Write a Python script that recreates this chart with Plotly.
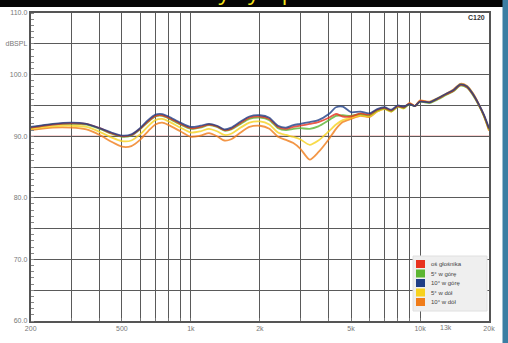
import numpy as np
import plotly.graph_objects as go

# --- data -------------------------------------------------------------
freq_hz = [200, 250, 300, 350, 400, 450, 500, 550, 600, 650, 700, 750, 800, 900,
           1000, 1100, 1200, 1300, 1400, 1500, 1650, 1800, 2000, 2200, 2400, 2600,
           2800, 3000, 3300, 3600, 4000, 4300, 4600, 5000, 5500, 6000, 6500, 7000,
           7500, 8000, 8500, 9000, 9500, 10000, 11000, 12000, 13000, 14000, 15000,
           16000, 17000, 18000, 19000, 20000]

spl_axis = [91.4, 91.9, 92.1, 92.0, 91.3, 90.5, 90.0, 90.2, 91.2, 92.4, 93.3, 93.4, 93.0, 92.0,
            91.3, 91.5, 91.9, 91.6, 91.0, 91.2, 92.2, 93.0, 93.2, 92.8, 91.5, 91.2,
            91.5, 91.7, 92.0, 92.3, 93.0, 93.6, 93.2, 93.2, 93.7, 93.5, 94.3, 94.6,
            94.2, 94.9, 94.7, 95.3, 94.9, 95.7, 95.5, 96.1, 96.8, 97.4, 98.3,
            98.0, 96.8, 95.2, 93.4, 91.2]

spl_up5 = [91.4, 91.9, 92.0, 91.9, 91.2, 90.4, 89.9, 90.1, 91.1, 92.3, 93.2, 93.3, 92.9, 91.9,
           91.2, 91.4, 91.8, 91.5, 90.9, 91.1, 92.0, 92.8, 93.0, 92.6, 91.3, 91.0,
           91.2, 91.3, 91.2, 91.6, 92.6, 93.3, 93.4, 93.3, 93.6, 93.4, 94.2, 94.5,
           94.1, 94.8, 94.6, 95.2, 94.9, 95.6, 95.4, 96.0, 96.7, 97.3, 98.2,
           97.9, 96.7, 95.1, 93.3, 91.1]

spl_up10 = [91.5, 92.0, 92.2, 92.0, 91.3, 90.6, 90.1, 90.3, 91.3, 92.6, 93.5, 93.6, 93.2, 92.2,
            91.5, 91.7, 92.0, 91.7, 91.1, 91.4, 92.4, 93.2, 93.4, 93.0, 91.7, 91.4,
            91.8, 92.0, 92.3, 92.6, 93.6, 94.7, 94.8, 93.9, 94.0, 93.7, 94.4, 94.7,
            94.3, 95.0, 94.8, 95.2, 94.9, 95.6, 95.5, 96.2, 96.9, 97.5, 98.4,
            98.1, 96.9, 95.3, 93.5, 91.3]

spl_down5 = [91.2, 91.6, 91.7, 91.5, 90.7, 89.8, 89.2, 89.3, 90.3, 91.6, 92.6, 92.8, 92.4, 91.4,
             90.6, 90.8, 91.2, 90.8, 90.2, 90.4, 91.4, 92.2, 92.4, 91.9, 90.6, 90.2,
             89.9, 89.5, 88.6, 89.3, 90.8, 91.9, 92.6, 93.0, 93.4, 93.2, 94.0, 94.4,
             94.0, 94.8, 94.5, 95.3, 94.9, 95.7, 95.5, 96.2, 96.8, 97.4, 98.4,
             98.1, 96.9, 95.2, 93.3, 91.0]

spl_down10 = [91.0, 91.4, 91.4, 91.1, 90.2, 89.1, 88.3, 88.4, 89.4, 90.8, 91.9, 92.2, 91.8, 90.8,
              89.9, 90.1, 90.5, 90.0, 89.3, 89.5, 90.6, 91.5, 91.7, 91.2, 89.9, 89.4,
              88.9, 88.0, 86.2, 87.4, 89.5, 91.2, 92.3, 92.8, 93.3, 93.1, 94.0, 94.5,
              94.0, 94.9, 94.6, 95.4, 94.9, 95.8, 95.6, 96.2, 96.9, 97.6, 98.5,
              98.2, 97.0, 95.3, 93.3, 90.9]

series_names = ["oś głośnika", "5° w górę", "10° w górę", "5° w dół", "10° w dół"]
series_values = [spl_axis, spl_up5, spl_up10, spl_down5, spl_down10]
series_colors = ["#e8321e", "#5cb531", "#203f86", "#f7d21e", "#f07d1a"]
draw_order = [4, 3, 1, 0, 2]

ref_level = 90.0

grid_freqs = [200, 300, 400, 500, 600, 700, 800, 900, 1000,
              2000, 3000, 4000, 5000, 6000, 7000, 8000, 9000, 10000, 20000]
x_label_freqs = [200, 500, 1000, 2000, 5000, 10000, 20000]
x_label_texts = ["200", "500", "1k", "2k", "5k", "10k", "20k"]
extra_x_label = (13000, "13k")

y_tick_vals = [60, 65, 70, 75, 80, 85, 90, 95, 100, 105, 110]
y_tick_texts = ["60.0", "", "70.0", "", "80.0", "", "90.0", "", "100.0", "dBSPL", "110.0"]

title_text = "Charakterystyki przetwarzania"
corner_tag = "C120"

# --- figure geometry ----------------------------------------------------
W, H = 508, 343


def px(x):
    return x / W


def py(y):
    return 1 - y / H


fig = go.Figure()

for i in draw_order:
    fig.add_trace(go.Scatter(
        x=freq_hz, y=series_values[i], name=series_names[i], mode="lines",
        line=dict(color=series_colors[i], width=1.8, shape="spline", smoothing=0.7),
        opacity=0.8, showlegend=False, hoverinfo="skip"))

tick_text_map = dict(zip(x_label_freqs, x_label_texts))
x_ticktext = [tick_text_map.get(f, "") for f in grid_freqs]

fig.update_layout(
    width=W, height=H,
    margin=dict(l=0, r=0, t=0, b=0),
    paper_bgcolor="white", plot_bgcolor="white",
    font=dict(family="Liberation Sans, Arial, sans-serif", size=7, color="#666"),
    xaxis=dict(
        type="log", range=[np.log10(200), np.log10(20000)],
        domain=[px(30.7), px(489)],
        tickmode="array", tickvals=grid_freqs, ticktext=x_ticktext,
        showgrid=True, gridcolor="#5a5a5a", gridwidth=1.3,
        showline=True, linecolor="#555", linewidth=1.5, mirror=True,
        ticks="inside", ticklen=3, tickcolor="#777",
        tickfont=dict(size=7, color="#777"), automargin=False, zeroline=False,
    ),
    yaxis=dict(
        range=[60, 110], domain=[py(321), py(13)],
        tickmode="array", tickvals=y_tick_vals, ticktext=y_tick_texts,
        showgrid=True, gridcolor="#5a5a5a", gridwidth=1.3,
        showline=True, linecolor="#555", linewidth=2, mirror=True,
        ticks="", tickfont=dict(size=7, color="#777"),
        minor=dict(dtick=1, ticks="inside", ticklen=3, tickcolor="#888"),
        automargin=False, zeroline=False,
    ),
)

# reference level
fig.add_shape(type="line", xref="paper", yref="y",
              x0=px(30.7), x1=px(489), y0=ref_level, y1=ref_level,
              line=dict(color="#f2a3a3", width=1.2), layer="below")

fig.add_annotation(x=np.log10(extra_x_label[0]), y=py(321), xref="x", yref="paper",
                   yanchor="top", yshift=-1, text=extra_x_label[1], showarrow=False,
                   font=dict(size=7, color="#777"))

# legend box
fig.add_shape(type="rect", xref="paper", yref="paper",
              x0=px(413), x1=px(487), y0=py(311), y1=py(256),
              fillcolor="#efefef", line=dict(color="#e0e0e0", width=1))
row_y = [264, 273.5, 283, 292.5, 302]
for k in range(len(series_names)):
    fig.add_shape(type="rect", xref="paper", yref="paper",
                  x0=px(416), x1=px(425), y0=py(row_y[k] + 4), y1=py(row_y[k] - 4),
                  fillcolor=series_colors[k], line=dict(width=0))
    fig.add_annotation(x=px(429), y=py(row_y[k]), xref="paper", yref="paper",
                       xanchor="left", yanchor="middle", text=series_names[k],
                       showarrow=False, font=dict(size=6, color="#444"))

fig.add_annotation(x=px(487), y=py(17), xref="paper", yref="paper",
                   xanchor="right", yanchor="middle", text="<b>" + corner_tag + "</b>",
                   showarrow=False, font=dict(size=7, color="#333"))

# page frame: dark band on top, blue edge on the right
fig.add_shape(type="rect", xref="paper", yref="paper",
              x0=0, x1=px(503), y0=py(7), y1=1.02,
              fillcolor="#050505", line=dict(width=0), layer="above")
fig.add_shape(type="rect", xref="paper", yref="paper",
              x0=px(502.5), x1=1.02, y0=-0.02, y1=1.02,
              fillcolor="#3b7ea3", line=dict(width=0), layer="above")

fig.add_annotation(x=px(272), y=py(8), xref="paper", yref="paper",
                   xanchor="center", yanchor="bottom", text=title_text,
                   showarrow=False,
                   font=dict(size=22, color="#f4e31c", family="Open Sans, sans-serif"))

fig.write_html("out.html")
